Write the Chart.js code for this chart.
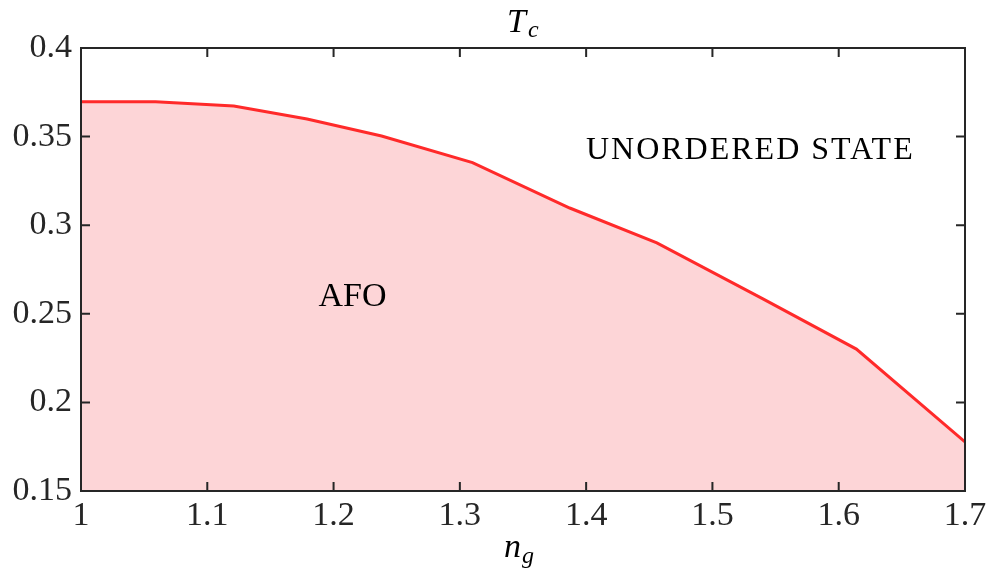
<!DOCTYPE html>
<html>
<head>
<meta charset="utf-8">
<script src="https://cdn.jsdelivr.net/npm/chart.js@4/dist/chart.umd.min.js"></script>
<style>
  html, body { margin: 0; padding: 0; background: #fff; }
  #wrap { width: 987px; height: 579px; }
</style>
</head>
<body>
<div id="wrap"><canvas id="chart"></canvas></div>
<script>
// Phase boundary T_c vs n_g
const ngValues = [1, 1.059, 1.121, 1.179, 1.238, 1.310, 1.387, 1.456, 1.540, 1.614, 1.7];
const tcValues = [0.3697, 0.3697, 0.3673, 0.3599, 0.3503, 0.3353, 0.3097, 0.2900, 0.2584, 0.2301, 0.1777];
const xTicks = [1, 1.1, 1.2, 1.3, 1.4, 1.5, 1.6, 1.7];
const yTicks = [0.15, 0.2, 0.25, 0.3, 0.35, 0.4];

const SERIF = '"Liberation Serif", "DejaVu Serif", serif';
const AXIS_COLOR = '#262626';

// Frame and inward ticks, MATLAB style
const framePlugin = {
    id: 'frame',
    afterDatasetsDraw(chart) {
        const { ctx, chartArea: a, scales } = chart;
        ctx.save();
        ctx.strokeStyle = AXIS_COLOR;
        ctx.lineWidth = 2;
        const len = 9;
        ctx.beginPath();
        xTicks.forEach(v => {
            const px = scales.x.getPixelForValue(v);
            ctx.moveTo(px, a.bottom); ctx.lineTo(px, a.bottom - len);
            ctx.moveTo(px, a.top); ctx.lineTo(px, a.top + len);
        });
        yTicks.forEach(v => {
            const py = scales.y.getPixelForValue(v);
            ctx.moveTo(a.left, py); ctx.lineTo(a.left + len, py);
            ctx.moveTo(a.right, py); ctx.lineTo(a.right - len, py);
        });
        ctx.stroke();
        ctx.strokeRect(a.left, a.top, a.right - a.left, a.bottom - a.top);
        ctx.restore();
    }
};

// Axis titles with subscripts and region labels
const labelsPlugin = {
    id: 'labels',
    afterDraw(chart) {
        const { ctx, chartArea: a, scales } = chart;
        const cx = (a.left + a.right) / 2;
        ctx.save();
        ctx.fillStyle = '#000';
        ctx.textBaseline = 'alphabetic';
        ctx.textAlign = 'left';

        // title T_c
        ctx.font = 'italic 34px ' + SERIF;
        ctx.fillText('T', cx - 16, 32);
        ctx.font = 'italic 24px ' + SERIF;
        ctx.fillText('c', cx + 5, 37);

        // x label n_g
        ctx.font = 'italic 34px ' + SERIF;
        ctx.fillText('n', cx - 19, 557);
        ctx.font = 'italic 24px ' + SERIF;
        ctx.fillText('g', cx - 1, 563);

        // region labels
        ctx.textAlign = 'center';
        ctx.textBaseline = 'middle';
        ctx.font = '32px ' + SERIF;
        ctx.letterSpacing = '2px';
        ctx.fillText('UNORDERED STATE', scales.x.getPixelForValue(1.53), scales.y.getPixelForValue(0.342));
        ctx.letterSpacing = '0px';
        ctx.font = '34px ' + SERIF;
        ctx.fillText('AFO', scales.x.getPixelForValue(1.215), scales.y.getPixelForValue(0.2595));
        ctx.restore();
    }
};

const points = ngValues.map((x, i) => ({ x: x, y: tcValues[i] }));

new Chart(document.getElementById('chart'), {
    type: 'line',
    data: {
        datasets: [{
            data: points,
            borderColor: '#ff2a2a',
            backgroundColor: '#fdd5d7',
            borderWidth: 3,
            pointRadius: 0,
            tension: 0,
            fill: 'start'
        }]
    },
    options: {
        responsive: true,
        maintainAspectRatio: false,
        animation: false,
        layout: { padding: { top: 48, right: 22, left: 0, bottom: 0 } },
        plugins: {
            legend: { display: false },
            tooltip: { enabled: false },
            title: { display: false }
        },
        scales: {
            x: {
                type: 'linear',
                min: 1,
                max: 1.7,
                afterFit(scale) {
                    scale.height = 88;
                    scale.paddingLeft = 0;
                    scale.paddingRight = 0;
                },
                afterBuildTicks(scale) { scale.ticks = xTicks.map(v => ({ value: v })); },
                grid: { display: false, drawTicks: false },
                border: { display: false },
                ticks: {
                    autoSkip: false,
                    maxRotation: 0,
                    padding: 5,
                    color: AXIS_COLOR,
                    font: { family: SERIF, size: 34 },
                    callback: v => String(+v.toFixed(2))
                }
            },
            y: {
                type: 'linear',
                min: 0.15,
                max: 0.4,
                afterFit(scale) {
                    scale.width = 81;
                    scale.paddingTop = 0;
                    scale.paddingBottom = 0;
                },
                afterBuildTicks(scale) { scale.ticks = yTicks.map(v => ({ value: v })); },
                grid: { display: false, drawTicks: false },
                border: { display: false },
                ticks: {
                    autoSkip: false,
                    padding: 9,
                    color: AXIS_COLOR,
                    font: { family: SERIF, size: 34 },
                    callback: v => String(+v.toFixed(2))
                }
            }
        }
    },
    plugins: [framePlugin, labelsPlugin]
});
</script>
</body>
</html>
